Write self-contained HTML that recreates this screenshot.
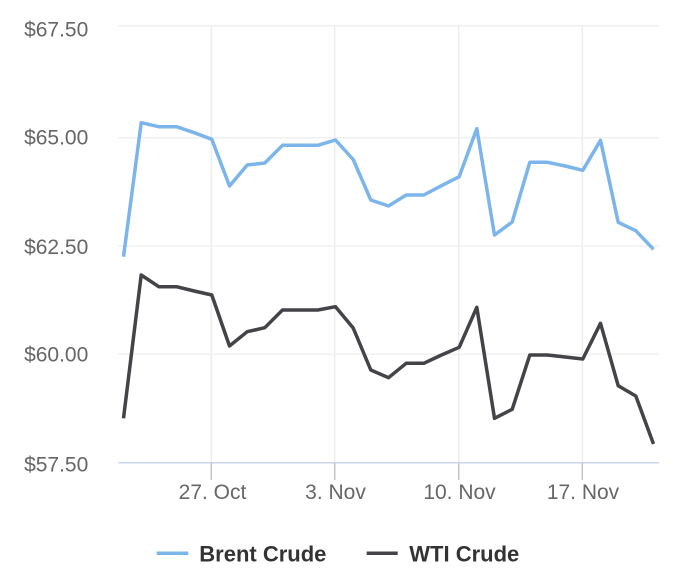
<!DOCTYPE html>
<html>
<head>
<meta charset="utf-8">
<style>
  html, body { margin:0; padding:0; background:#ffffff; }
  body { width:700px; height:581px; overflow:hidden; }
  svg { display:block; }
  .yl { font-family:"Liberation Sans", Arial, sans-serif; font-size:21px; fill:#666666; }
  .xl { font-family:"Liberation Sans", Arial, sans-serif; font-size:21px; fill:#666666; }
  .lg { font-family:"Liberation Sans", Arial, sans-serif; font-size:22px; font-weight:bold; fill:#333333; }
</style>
</head>
<body>
<svg width="700" height="581" viewBox="0 0 700 581" xmlns="http://www.w3.org/2000/svg">
  <rect x="0" y="0" width="700" height="581" fill="#ffffff"/>

  <!-- vertical grid lines -->
  <g stroke="#eeeeee" stroke-width="1.5">
    <line x1="211.3" y1="25.7" x2="211.3" y2="462.7"/>
    <line x1="334.7" y1="25.7" x2="334.7" y2="462.7"/>
    <line x1="458.7" y1="25.7" x2="458.7" y2="462.7"/>
    <line x1="582.3" y1="25.7" x2="582.3" y2="462.7"/>
  </g>

  <!-- horizontal grid lines -->
  <g stroke="#f0f0f0" stroke-width="1.5">
    <line x1="118.3" y1="25.7" x2="659" y2="25.7"/>
    <line x1="118.3" y1="137.7" x2="659" y2="137.7"/>
    <line x1="118.3" y1="246" x2="659" y2="246"/>
    <line x1="118.3" y1="354.3" x2="659" y2="354.3"/>
  </g>

  <!-- x axis line -->
  <line x1="118.3" y1="462.7" x2="659" y2="462.7" stroke="#ccd6eb" stroke-width="1.5"/>

  <!-- ticks -->
  <g stroke="#c4c4c4" stroke-width="1.5">
    <line x1="211.3" y1="462.7" x2="211.3" y2="480"/>
    <line x1="334.7" y1="462.7" x2="334.7" y2="480"/>
    <line x1="458.7" y1="462.7" x2="458.7" y2="480"/>
    <line x1="582.3" y1="462.7" x2="582.3" y2="480"/>
  </g>

  <!-- y labels -->
  <g class="yl" text-anchor="end">
    <text x="88.3" y="36.7">$67.50</text>
    <text x="88.3" y="144.3">$65.00</text>
    <text x="88.3" y="254">$62.50</text>
    <text x="88.3" y="361.7">$60.00</text>
    <text x="88.3" y="471.5">$57.50</text>
  </g>

  <!-- x labels -->
  <g class="xl" text-anchor="middle">
    <text x="212.5" y="499">27. Oct</text>
    <text x="335.5" y="499">3. Nov</text>
    <text x="459.5" y="499">10. Nov</text>
    <text x="583" y="499">17. Nov</text>
  </g>

  <!-- Brent Crude -->
  <polyline fill="none" stroke="#7cb5ec" stroke-width="3.5" stroke-linejoin="round" stroke-linecap="butt"
    points="123.5,256.7 141.2,122.7 158.8,126.7 176.5,126.7 194.2,132.7 211.8,139.3 229.5,186 247.2,165 264.8,163 282.5,145.3 300.2,145.3 317.8,145.3 335.5,140 353.2,159.5 370.8,200 388.5,206 406.2,195 423.8,195 441.5,185.7 459.2,176.7 476.8,128.7 494.5,235 512.2,222 529.8,162.3 547.5,162.3 565.2,166 582.8,170.3 600.5,140.3 618.2,222.3 635.8,230.7 653.5,249.3"/>

  <!-- WTI Crude -->
  <polyline fill="none" stroke="#434348" stroke-width="3.5" stroke-linejoin="round" stroke-linecap="butt"
    points="123.5,418.3 141.2,275 158.8,286.7 176.5,286.7 194.2,291 211.8,295 229.5,346 247.2,331.7 264.8,327.7 282.5,310 300.2,310 317.8,310 335.5,306.7 353.2,328 370.8,370 388.5,377.7 406.2,363.3 423.8,363.3 441.5,355 459.2,347.3 476.8,307.3 494.5,418.3 512.2,409.3 529.8,355 547.5,355 565.2,357 582.8,359 600.5,323.3 618.2,385.7 635.8,396 653.5,444"/>

  <!-- legend -->
  <line x1="156.7" y1="553.3" x2="188.3" y2="553.3" stroke="#7cb5ec" stroke-width="3.5"/>
  <text class="lg" x="199.3" y="561.5">Brent Crude</text>
  <line x1="366.7" y1="553.3" x2="397.7" y2="553.3" stroke="#434348" stroke-width="3.5"/>
  <text class="lg" x="409.3" y="561.5">WTI Crude</text>
</svg>
</body>
</html>
